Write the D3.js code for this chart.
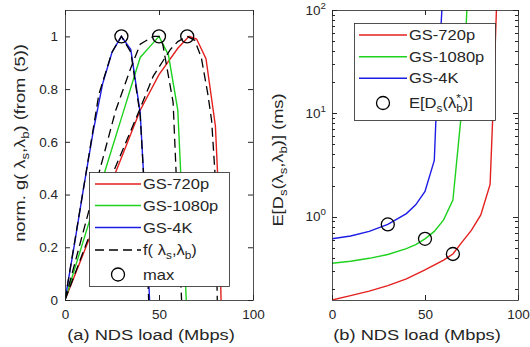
<!DOCTYPE html>
<html>
<head>
<meta charset="utf-8">
<title>NDS load</title>
<style>
  body { margin: 0; background: #fff; }
  text { font-family: "Liberation Sans", Arial, Helvetica, sans-serif; fill: #262626; }
</style>
<script src="https://d3js.org/d3.v7.min.js"></script>
</head>
<body>
<script>
// ---- data ----
var seriesNames = ["GS-720p", "GS-1080p", "GS-4K"];
var seriesColors = ["#e3201e", "#1ed21e", "#1c1ce6"];

// (a) normalized g, solid curves
var gLoad720 = [0, 10, 20, 30, 40, 50, 60, 66, 70, 75, 80, 82, 83];
var gVal720 = [0, 0.18, 0.36, 0.54, 0.72, 0.855, 0.955, 1.0, 0.99, 0.915, 0.66, 0.35, 0];
var gLoad1080 = [0, 10, 20, 30, 40, 45, 50, 55, 60, 61.5, 64.5];
var gVal1080 = [0, 0.23, 0.46, 0.69, 0.92, 0.96, 1.0, 0.93, 0.72, 0.49, 0];
var gLoad4K = [0, 5, 10, 15, 20, 25, 30, 35, 40, 42, 45];
var gVal4K = [0, 0.21, 0.43, 0.64, 0.82, 0.94, 1.0, 0.95, 0.71, 0.45, 0];

// (a) f(ls,lb), dashed curves
var fLoad720 = [0, 26, 39, 47, 56, 60, 65, 69, 72.5, 76, 78, 79.7, 81];
var fVal720 = [0, 0.49, 0.71, 0.85, 0.95, 0.98, 1.0, 0.985, 0.92, 0.78, 0.68, 0.49, 0];
var fLoad1080 = [0, 27, 35, 40, 47, 50, 52, 57.5, 59, 62];
var fVal1080 = [0, 0.72, 0.88, 0.97, 1.0, 1.0, 0.97, 0.75, 0.5, 0];
var fLoad4K = [0, 10, 18, 25, 30, 35, 40, 42, 44.5];
var fVal4K = [0, 0.43, 0.78, 0.94, 1.0, 0.94, 0.7, 0.45, 0];

// (a) maxima
var maxLoad = [65, 50, 30];
var maxVal = [1, 1, 1];

// (b) E[Ds] in ms
var dLoad720 = [0, 10, 20, 30, 40, 50, 60, 65, 70, 75, 80, 85, 86.5, 90];
var dVal720 = [0.156, 0.172, 0.19, 0.215, 0.25, 0.305, 0.38, 0.435, 0.57, 0.74, 1.04, 2.05, 10, 700];
var dLoad1080 = [0, 10, 20, 30, 40, 45, 50, 55, 60, 65, 70, 73];
var dVal1080 = [0.354, 0.37, 0.395, 0.43, 0.49, 0.535, 0.61, 0.72, 0.93, 1.45, 12, 150];
var dLoad4K = [0, 10, 20, 30, 40, 45, 50, 55, 56, 60];
var dVal4K = [0.61, 0.65, 0.72, 0.84, 1.07, 1.3, 1.75, 3.5, 10, 200];

// (b) operating points
var optLoad = [65, 50, 30];
var optVal = [0.435, 0.61, 0.84];

var xTicks = [0, 50, 100];
var yTicksA = [0, 0.2, 0.4, 0.6, 0.8, 1];
var yTicksB = [1, 10, 100];

// ---- setup ----
var W = 530, H = 347;
var fontTick = 13.5, fontLab = 15.5, fontLeg = 14, stretch = 1.18;
var axisColor = "#262626";

var svg = d3.select("body").append("svg").attr("width", W).attr("height", H);

function zip(xs, ys) { return xs.map(function(v, i) { return [v, ys[i]]; }); }

// tex-ish text: parts = [[str, "sub"|"sup"|"", dx]]
function addTex(textSel, parts, fs) {
  var shift = 0;
  parts.forEach(function(p) {
    var t = textSel.append("tspan").text(p[0]);
    var target = p[1] === "sub" ? 0.28 * fs : (p[1] === "sup" ? -0.42 * fs : 0);
    t.attr("dy", target - shift);
    if (p[1]) t.attr("font-size", 0.72 * fs);
    if (p[2]) t.attr("dx", p[2]);
    shift = target;
  });
}

function panel(opt) {
  var x = opt.x, y = opt.y;
  var x0 = x.range()[0], x1 = x.range()[1], y0 = y.range()[0], y1 = y.range()[1];
  var g = svg.append("g");

  g.append("clipPath").attr("id", opt.id + "clip")
    .append("rect").attr("x", x0).attr("y", y1).attr("width", x1 - x0).attr("height", y0 - y1);

  // ticks
  var bx = d3.axisBottom(x).tickValues(xTicks).tickSize(-5).tickSizeOuter(0).tickPadding(9);
  var tx = d3.axisTop(x).tickValues(xTicks).tickSize(-5).tickSizeOuter(0).tickFormat("");
  var gb = g.append("g").attr("transform", "translate(0," + y0 + ")").call(bx);
  var gt = g.append("g").attr("transform", "translate(0," + y1 + ")").call(tx);
  [gb, gt].forEach(function(s) {
    s.select(".domain").remove();
    s.selectAll("line").attr("stroke", axisColor);
    s.selectAll("text").style("font-size", fontTick + "px").attr("fill", axisColor);
  });

  if (opt.log) {
    var all = y.ticks().filter(function(t) { return t >= y.domain()[0] && t <= y.domain()[1]; });
    all.forEach(function(t) {
      var major = yTicksB.indexOf(t) >= 0;
      var len = major ? 5 : 3;
      var py = Math.round(y(t)) + 0.5;
      g.append("line").attr("x1", x0).attr("x2", x0 + len).attr("y1", py).attr("y2", py).attr("stroke", axisColor);
      g.append("line").attr("x1", x1).attr("x2", x1 - len).attr("y1", py).attr("y2", py).attr("stroke", axisColor);
    });
    yTicksB.forEach(function(t) {
      var lab = g.append("text").attr("x", x0 - 6).attr("y", y(t)).attr("dy", "0.35em")
        .attr("text-anchor", "end").style("font-size", fontTick + "px");
      lab.append("tspan").text("10");
      lab.append("tspan").text(String(Math.round(Math.log10(t))))
        .attr("dy", -0.45 * fontTick).style("font-size", (fontTick * 0.72) + "px");
    });
  } else {
    var ly = d3.axisLeft(y).tickValues(yTicksA).tickSize(-5).tickSizeOuter(0).tickPadding(7).tickFormat(d3.format(""));
    var ry = d3.axisRight(y).tickValues(yTicksA).tickSize(-5).tickSizeOuter(0).tickFormat("");
    var gl = g.append("g").attr("transform", "translate(" + x0 + ",0)").call(ly);
    var gr = g.append("g").attr("transform", "translate(" + x1 + ",0)").call(ry);
    [gl, gr].forEach(function(s) {
      s.select(".domain").remove();
      s.selectAll("line").attr("stroke", axisColor);
      s.selectAll("text").style("font-size", fontTick + "px").attr("fill", axisColor);
    });
  }

  // curves
  var line = d3.line().x(function(d) { return x(d[0]); }).y(function(d) { return y(d[1]); });
  var plot = g.append("g").attr("clip-path", "url(#" + opt.id + "clip)");
  opt.solid.forEach(function(s, i) {
    plot.append("path").datum(s).attr("d", line).attr("fill", "none")
      .attr("stroke", seriesColors[i]).attr("stroke-width", 1.4);
  });
  (opt.dashed || []).forEach(function(s) {
    plot.append("path").datum(s).attr("d", line).attr("fill", "none")
      .attr("stroke", "#000").attr("stroke-width", 1.3).attr("stroke-dasharray", "9,5");
  });
  g.selectAll(null).data(opt.marks).enter().append("circle")
    .attr("cx", function(d) { return x(d[0]); }).attr("cy", function(d) { return y(d[1]); })
    .attr("r", 6.5).attr("fill", "none").attr("stroke", "#000").attr("stroke-width", 1.3);

  // box
  g.append("rect").attr("x", x0 + 0.5).attr("y", y1 + 0.5).attr("width", x1 - x0).attr("height", y0 - y1)
    .attr("fill", "none").attr("stroke", axisColor).attr("stroke-width", 0.8);

  // legend
  var L = opt.legend;
  var lg = g.append("g");
  lg.append("rect").attr("x", L.x + 0.5).attr("y", L.y + 0.5).attr("width", L.w).attr("height", L.h)
    .attr("fill", "#fff").attr("stroke", axisColor).attr("stroke-width", 0.8);
  L.items.forEach(function(it, i) {
    var cy = L.rows[i];
    if (it.kind === "circle") {
      lg.append("circle").attr("cx", L.x + L.sym).attr("cy", cy).attr("r", 6.5)
        .attr("fill", "none").attr("stroke", "#000").attr("stroke-width", 1.3);
    } else {
      lg.append("line").attr("x1", L.x + L.l0).attr("x2", L.x + L.l1).attr("y1", cy).attr("y2", cy)
        .attr("stroke", it.color).attr("stroke-width", it.kind === "dash" ? 1.3 : 1.4)
        .attr("stroke-dasharray", it.kind === "dash" ? "9,5" : null);
    }
    var t = lg.append("g").attr("transform", "translate(" + (L.x + L.tx) + "," + (cy + 0.36 * fontLeg) + ") scale(" + stretch + ",1)")
      .append("text").style("font-size", fontLeg + "px");
    addTex(t, it.label, fontLeg);
  });

  // axis labels
  var xl = g.append("g").attr("transform", "translate(" + opt.xlab.cx + "," + opt.xlab.y + ") scale(" + stretch + ",1)")
    .append("text").attr("text-anchor", "middle").style("font-size", fontLab + "px");
  addTex(xl, opt.xlab.parts, fontLab);
  var yl = g.append("g").attr("transform", "translate(" + opt.ylab.x + "," + opt.ylab.cy + ") rotate(-90) scale(" + stretch + ",1)")
    .append("text").attr("text-anchor", "middle").style("font-size", fontLab + "px");
  addTex(yl, opt.ylab.parts, fontLab);
}

// (a)
panel({
  id: "a",
  x: d3.scaleLinear().domain([0, 100]).range([65, 253]),
  y: d3.scaleLinear().domain([0, 1.1]).range([300, 10]),
  solid: [zip(gLoad720, gVal720), zip(gLoad1080, gVal1080), zip(gLoad4K, gVal4K)],
  dashed: [zip(fLoad720, fVal720), zip(fLoad1080, fVal1080), zip(fLoad4K, fVal4K)],
  marks: zip(maxLoad, maxVal),
  legend: {
    x: 89, y: 172, w: 140, h: 114, l0: 6, l1: 52, sym: 29, tx: 54,
    rows: [184, 205.5, 227.5, 250, 274.5],
    items: [
      { kind: "line", color: seriesColors[0], label: [[seriesNames[0], ""]] },
      { kind: "line", color: seriesColors[1], label: [[seriesNames[1], ""]] },
      { kind: "line", color: seriesColors[2], label: [[seriesNames[2], ""]] },
      { kind: "dash", color: "#000", label: [["f( \u03bb", ""], ["s", "sub"], [",\u03bb", ""], ["b", "sub"], [")", ""]] },
      { kind: "circle", label: [["max", ""]] }
    ]
  },
  xlab: { cx: 151, y: 340, parts: [["(a) NDS load (Mbps)", ""]] },
  ylab: { x: 25, cy: 143, parts: [["norm. g( \u03bb", ""], ["s", "sub"], [",\u03bb", ""], ["b", "sub"], [") (from (5))", ""]] }
});

// (b)
panel({
  id: "b",
  log: true,
  x: d3.scaleLinear().domain([0, 100]).range([332, 518]),
  y: d3.scaleLog().domain([0.156, 100]).range([300, 10]),
  solid: [zip(dLoad720, dVal720), zip(dLoad1080, dVal1080), zip(dLoad4K, dVal4K)],
  marks: zip(optLoad, optVal),
  legend: {
    x: 354, y: 23, w: 141, h: 97, l0: 5, l1: 53, sym: 29, tx: 55,
    rows: [35, 56.7, 78.3, 103],
    items: [
      { kind: "line", color: seriesColors[0], label: [[seriesNames[0], ""]] },
      { kind: "line", color: seriesColors[1], label: [[seriesNames[1], ""]] },
      { kind: "line", color: seriesColors[2], label: [[seriesNames[2], ""]] },
      { kind: "circle", label: [["E[D", ""], ["s", "sub"], ["(\u03bb", ""], ["*", "sup"], ["b", "sub", -4], [")]", ""]] }
    ]
  },
  xlab: { cx: 417, y: 340, parts: [["(b) NDS load (Mbps)", ""]] },
  ylab: { x: 283, cy: 160, parts: [["E[D", ""], ["s", "sub"], ["(\u03bb", ""], ["s", "sub"], [",\u03bb", ""], ["b", "sub"], [")] (ms)", ""]] }
});
</script>
</body>
</html>
